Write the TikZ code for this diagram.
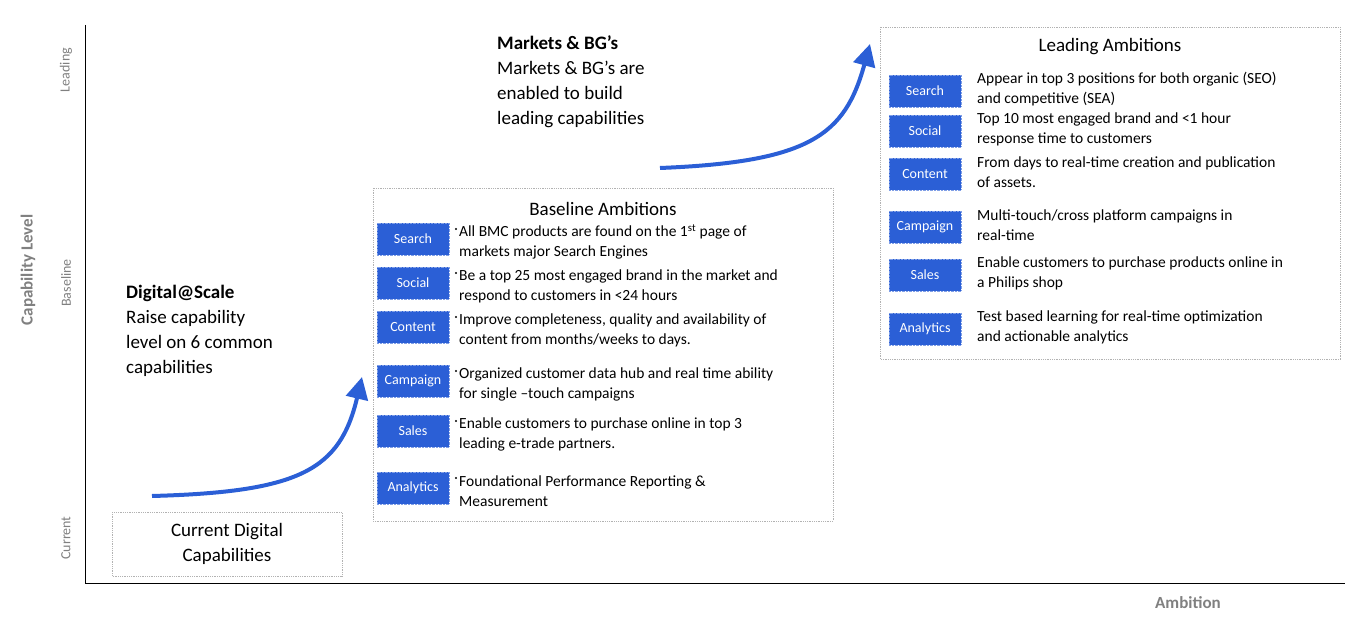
\documentclass[tikz,border=0pt]{standalone}
\usepackage{fontspec}
\setmainfont{Carlito}
\begin{document}
\begin{tikzpicture}[x=1pt,y=-1pt,
  tag/.style={fill=tagblue,draw=tagblue!60!white,densely dotted,text=white,minimum width=72pt,minimum height=32pt,font=\fontsize{14}{16}\selectfont,inner sep=0pt},
  desc/.style={anchor=west,align=left,font=\fontsize{15.5}{20}\selectfont,inner sep=0pt},
  dbox/.style={draw=gray!60,densely dotted,line width=0.8pt},
  lvl/.style={rotate=90,text=gray,font=\fontsize{14}{16}\selectfont},
  arr/.style={line width=4pt,draw=tagblue,-{Triangle[length=22pt,width=22pt]}},
  big/.style={anchor=north west,align=left,font=\fontsize{19}{25}\selectfont,inner sep=0pt}]
\definecolor{tagblue}{HTML}{2B5FD6}
\useasboundingbox (0,0) rectangle (1370,628);
\usetikzlibrary{arrows.meta}
\coordinate (o) at (85,583);
\coordinate (yt) at (85,25);
\coordinate (xe) at (1345,583);
\draw[line width=1pt] (yt) -- (o) -- (xe);
\node[text=gray,font=\bfseries\fontsize{17}{20}\selectfont] (amb) at (1188,603) {Ambition};
\node[rotate=90,text=gray,font=\bfseries\fontsize{17}{20}\selectfont] (cap) at (28,270) {Capability Level};
\node[lvl] (l1) at (66,70) {Leading};
\node[lvl] (l2) at (66,283) {Baseline};
\node[lvl] (l3) at (66,538) {Current};
% boxes
\draw[dbox] (112,512) rectangle (342,576);
\node[align=center,font=\fontsize{19}{25}\selectfont] (cur) at (227,544) {Current Digital\\Capabilities};
\draw[dbox] (373,188) rectangle (833,521);
\draw[dbox] (880,27) rectangle (1340,359);
\node[font=\fontsize{19}{22}\selectfont] (bt) at (603,209) {Baseline Ambitions};
\node[font=\fontsize{19}{22}\selectfont] (lt) at (1110,47) {Leading Ambitions};
% texts
\node[big] (ds) at (126,285) {\textbf{Digital@Scale}\\Raise capability\\level on 6 common\\capabilities};
\node[big] (mk) at (497,35) {\textbf{Markets \& BG’s}\\Markets \& BG’s are\\enabled to build\\leading capabilities};
% arrows
\coordinate (a1s) at (152,496); \coordinate (a1e) at (362,377);
\draw[arr] (a1s) .. controls (300,492) and (340,470) .. (a1e);
\coordinate (a2s) at (660,168); \coordinate (a2e) at (870,44);
\draw[arr] (a2s) .. controls (810,162) and (845,135) .. (a2e);
% baseline tags
\foreach \n/\y/\t/\d in {bs/239/Search/{All BMC products are found on the 1\textsuperscript{st} page of\\markets major Search Engines},
 bso/283/Social/{Be a top 25 most engaged brand in the market and\\respond to customers in <24 hours},
 bc/327/Content/{Improve completeness, quality and availability of\\content from months/weeks to days.},
 bca/381/Campaign/{Organized customer data hub and real time ability\\for single –touch campaigns},
 bsa/431/Sales/{Enable customers to purchase online in top 3\\leading e-trade partners.},
 ban/488/Analytics/{Foundational Performance Reporting \&\\Measurement}}{
 \node[tag] (\n) at (413,\y) {\t};
 \node[desc] (\n d) at (459,\y+3) {\d};
 \fill (456,\y-10) circle (1.1pt);
}
\foreach \n/\y/\t/\d in {ls/91/Search/{Appear in top 3 positions for both organic (SEO)\\and competitive (SEA)},
 lso/131/Social/{Top 10 most engaged brand and <1 hour\\response time to customers},
 lc/174/Content/{From days to real-time creation and publication\\of assets.},
 lca/227/Campaign/{Multi-touch/cross platform campaigns in\\real-time},
 lsa/275/Sales/{Enable customers to purchase products online in\\a  Philips shop},
 lan/329/Analytics/{Test based learning for real-time optimization\\and actionable analytics}}{
 \node[tag] (\n) at (925,\y) {\t};
 \node[desc] (\n d) at (977,\y-2) {\d};
}
\end{tikzpicture}
\end{document}
